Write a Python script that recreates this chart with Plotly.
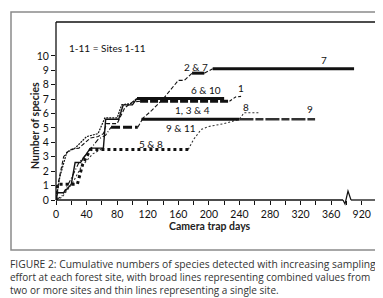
import plotly.graph_objects as go

# ---------------- data ----------------
# thin early curves (single sites)
solid_x = [0, 2, 10, 20, 25, 32, 45, 62, 65, 82, 88, 100, 106]
solid_y = [0, 0.5, 0.5, 1.1, 2.6, 2.6, 3.6, 3.6, 5.6, 5.6, 6.6, 6.6, 7.05]
dash_x = [0, 3, 10, 18, 30, 45, 55, 62, 66, 80, 90, 100, 110]
dash_y = [0, 1.2, 3.0, 3.5, 3.6, 4.3, 4.4, 4.6, 5.3, 5.3, 6.4, 6.8, 6.85]
dot_x = [0, 5, 14, 25, 40, 55, 64, 80, 86, 98, 106]
dot_y = [0, 1.6, 3.3, 3.6, 4.4, 4.6, 5.7, 5.7, 6.6, 6.7, 7.05]
dashdot_x = [0, 8, 20, 30, 40, 55, 65, 72]
dashdot_y = [0, 0.3, 1.5, 2.6, 3.2, 4.2, 4.5, 5.05]
dot2_x = [0, 8, 22, 33, 48, 62]
dot2_y = [0, 0.2, 1.2, 2.3, 3.2, 3.6]
rise27_x = [112, 125, 140, 160, 168, 178]
rise27_y = [5.6, 6.2, 7.0, 8.3, 8.3, 8.8]
step27_x = [194, 205]
step27_y = [8.8, 9.1]
rise1_x = [227, 235, 244]
rise1_y = [6.85, 7.15, 7.2]
rise8_x = [173, 180, 190, 200, 220, 240, 246, 265]
rise8_y = [3.5, 4.2, 4.9, 5.1, 5.3, 5.6, 6.05, 6.05]
rise911_x = [107, 113]
rise911_y = [5.05, 5.6]

# broad lines (combined sites)
s7_x = [178, 194, None, 205, 390]
s7_y = [8.8, 8.8, None, 9.1, 9.1]
s610_x = [106, 220]
s610_y = [7.05, 7.05]
s1_x = [110, 227]
s1_y = [6.85, 6.85]
s134_x = [112, 240]
s134_y = [5.6, 5.6]
s9_x = [240, 339]
s9_y = [5.6, 5.6]
s911_x = [72, 107]
s911_y = [5.05, 5.05]
s58_x = [0, 2, 28, 35, 45, 173]
s58_y = [0, 1.1, 1.1, 2.5, 3.5, 3.5]

# axis ticks
x_tick_vals = list(range(0, 421, 20))
x_tick_text = ["0", "", "40", "", "80", "", "120", "", "160", "", "200", "",
               "240", "", "280", "", "320", "", "360", "", "920", ""]
y_tick_vals = list(range(0, 11))

# labels
lab_text = ["2 & 7", "7", "6 & 10", "1", "1, 3 & 4", "9 & 11", "5 & 8", "8", "9"]
lab_x = [183, 350, 196, 242, 178, 163, 124, 249, 332]
lab_y = [9.25, 9.7, 7.6, 7.75, 6.25, 5.0, 3.9, 6.45, 6.3]

caption_lines = [
    "FIGURE 2: Cumulative numbers of species detected with increasing sampling",
    "effort at each forest site, with broad lines representing combined values from",
    "two or more sites and thin lines representing a single site.",
]
caption_sizes = [10.3, 10.0, 10.0]

fig = go.Figure()

def add(x, y, width, dash, color="#111"):
    fig.add_trace(go.Scatter(x=x, y=y, mode="lines", connectgaps=False,
                             line=dict(color=color, width=width, dash=dash),
                             hoverinfo="skip", showlegend=False))

add(solid_x, solid_y, 1.4, "solid")
add(dash_x, dash_y, 1.1, "4px,2px")
add(dot_x, dot_y, 1.2, "2px,1px")
add(dashdot_x, dashdot_y, 1.1, "5px,2px,1px,2px")
add(dot2_x, dot2_y, 1.1, "2px,2px", "#333")
add(rise27_x, rise27_y, 1.1, "4px,2px")
add(step27_x, step27_y, 1.1, "4px,2px")
add(rise1_x, rise1_y, 1.1, "3px,2px")
add(rise8_x, rise8_y, 1.1, "2px,2px", "#333")
add(rise911_x, rise911_y, 1.1, "4px,2px")

add(s7_x, s7_y, 3, "solid")
add(s610_x, s610_y, 3, "solid")
add(s1_x, s1_y, 3, "8px,2px")
add(s134_x, s134_y, 3, "solid")
add(s9_x, s9_y, 2.6, "14px,2px,8px,2px", "#333")
add(s911_x, s911_y, 3, "9px,3px")
add(s58_x, s58_y, 3, "3px,3px")

for t, x, y in zip(lab_text, lab_x, lab_y):
    fig.add_annotation(x=x, y=y, text=t, showarrow=False,
                       font=dict(size=10, color="#111"))

fig.add_annotation(x=15, y=10.55, text="1-11 = Sites 1-11", showarrow=False,
                   xanchor="left", font=dict(size=10, color="#111"))

# plot frame with a broken x axis
L, R, T, B = 48, 14, 14, 106
W, H = 383, 298
pw, ph = W - L - R, H - T - B
def px(v):
    return (v - L) / pw
def py(v):
    return (H - B - v) / ph

shapes = [
    dict(type="rect", xref="paper", yref="paper", x0=px(3), x1=px(378),
         y0=py(242), y1=py(4), line=dict(color="#8a8a8a", width=1.5)),
    dict(type="line", xref="paper", yref="paper", x0=0, x1=0, y0=0, y1=1,
         line=dict(color="#111", width=1.3)),
    dict(type="line", xref="paper", yref="paper", x0=0, x1=1, y0=1, y1=1,
         line=dict(color="#111", width=1.3)),
    dict(type="line", xref="paper", yref="paper", x0=1, x1=1, y0=0, y1=1,
         line=dict(color="#111", width=1.3)),
    dict(type="line", xref="paper", yref="paper", x0=0, x1=px(335), y0=0, y1=0,
         line=dict(color="#111", width=1.3)),
    dict(type="line", xref="paper", yref="paper", x0=px(343), x1=1, y0=0, y1=0,
         line=dict(color="#111", width=1.3)),
    dict(type="path", xref="paper", yref="paper",
         path=f"M {px(335)},0 L {px(337)},{py(196)} L {px(340)},{py(183)} L {px(343)},0",
         line=dict(color="#111", width=1.2)),
]
fig.update_layout(shapes=shapes)

fig.add_annotation(xref="paper", yref="paper", x=px(202), y=py(226),
                   text="<b>Camera trap days</b>", showarrow=False,
                   font=dict(size=10.5, color="#222"))
fig.add_annotation(xref="paper", yref="paper", x=px(19), y=py(118),
                   text="<b>Number of species</b>", textangle=-90, showarrow=False,
                   font=dict(size=10.5, color="#222"))
for i, (line, size) in enumerate(zip(caption_lines, caption_sizes)):
    fig.add_annotation(xref="paper", yref="paper", x=px(1), y=py(256 + 13 * i),
                       xanchor="left", yanchor="middle", align="left",
                       text=line, showarrow=False, borderpad=0,
                       font=dict(size=size, color="#333", family="Open Sans, sans-serif"))

fig.update_layout(
    width=W, height=H,
    margin=dict(l=L, r=R, t=T, b=B, autoexpand=False),
    paper_bgcolor="white", plot_bgcolor="white",
    font=dict(family="Lato, Open Sans, sans-serif", color="#222"),
    xaxis=dict(range=[0, 420], tickvals=x_tick_vals, ticktext=x_tick_text,
               ticks="outside", ticklen=4, tickcolor="#111", tickwidth=1,
               showgrid=False, zeroline=False, showline=False, automargin=False,
               tickfont=dict(size=10.5, color="#111")),
    yaxis=dict(range=[0, 12.35], tickvals=y_tick_vals,
               ticks="outside", ticklen=4, tickcolor="#111", tickwidth=1,
               showgrid=False, zeroline=False, showline=False, automargin=False,
               tickfont=dict(size=10.5, color="#111")),
)

fig.write_html("out.html")
